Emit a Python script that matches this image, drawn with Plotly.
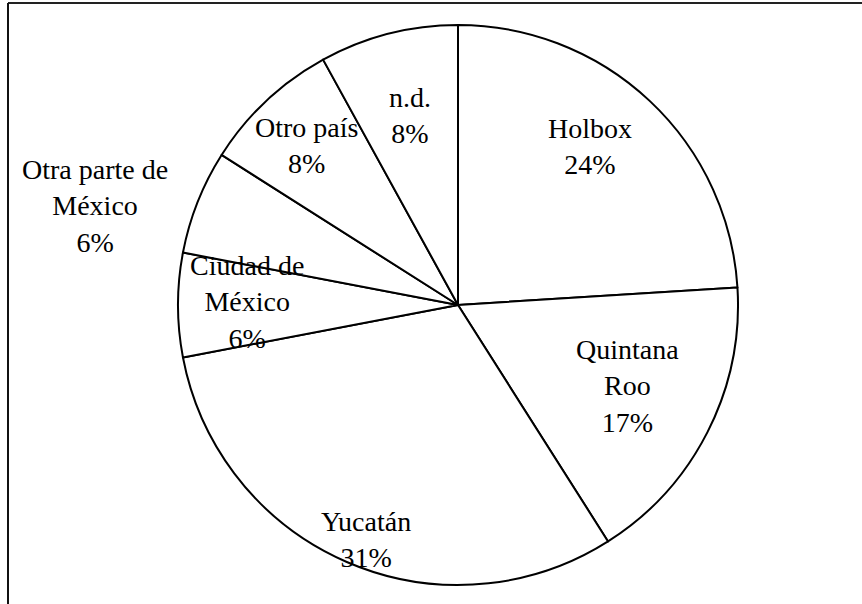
import plotly.graph_objects as go

# Origen de los encuestados (porcentaje)
categories = ["Holbox", "Quintana Roo", "Yucatán", "Ciudad de México",
              "Otra parte de México", "Otro país", "n.d."]
values = [24, 17, 31, 6, 6, 8, 8]

# Texto de cada etiqueta (saltos de línea como en el gráfico)
label_names = ["Holbox", "Quintana<br>Roo", "Yucatán", "Ciudad de<br>México",
               "Otra parte de<br>México", "Otro país", "n.d."]
# Centro de cada bloque de texto, en píxeles (x desde la izquierda, y desde arriba)
label_pos = [(590, 147), (627, 386), (366, 539), (247, 302),
             (95, 206), (306, 145), (410, 116)]

W, H = 862, 604
CX, CY, R = 458, 305, 280

total = sum(values)
pct = [round(100 * v / total) for v in values]

fig = go.Figure(go.Pie(
    labels=categories,
    values=values,
    sort=False,
    direction="clockwise",
    rotation=0,
    marker=dict(colors=["white"] * len(values), line=dict(color="black", width=2)),
    textinfo="none",
    hoverinfo="label+percent",
    domain=dict(x=[(CX - R) / W, (CX + R) / W],
                y=[(H - CY - R) / H, (H - CY + R) / H]),
    showlegend=False,
))

annotations = []
for name, p, (px, py) in zip(label_names, pct, label_pos):
    annotations.append(dict(
        x=px / W, y=1 - py / H, xref="paper", yref="paper",
        text=f"{name}<br>{p}%", showarrow=False,
        xanchor="center", yanchor="middle", align="center",
        font=dict(family="Liberation Serif", size=28, color="black"),
    ))

# Marco del área del gráfico (bordes superior e izquierdo)
shapes = [
    dict(type="line", xref="paper", yref="paper",
         x0=8 / W, x1=1, y0=1 - 3 / H, y1=1 - 3 / H,
         line=dict(color="#222222", width=2)),
    dict(type="line", xref="paper", yref="paper",
         x0=8 / W, x1=8 / W, y0=0, y1=1 - 3 / H,
         line=dict(color="#111111", width=2)),
]

fig.update_layout(
    width=W, height=H,
    margin=dict(l=0, r=0, t=0, b=0),
    paper_bgcolor="white",
    plot_bgcolor="white",
    annotations=annotations,
    shapes=shapes,
)

fig.write_html("out.html")
